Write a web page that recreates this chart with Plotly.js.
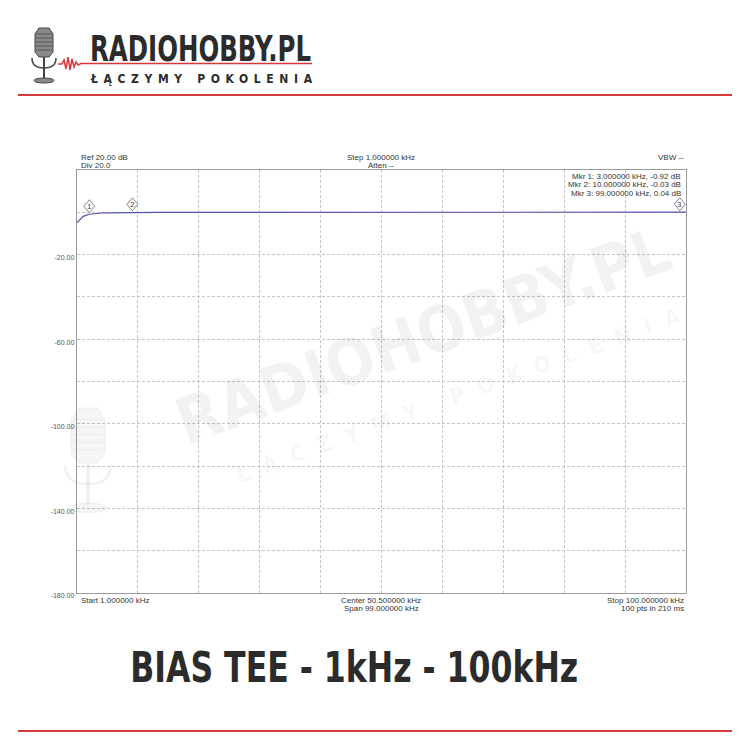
<!DOCTYPE html>
<html>
<head>
<meta charset="utf-8">
<script src="https://cdn.plot.ly/plotly-3.0.1.min.js"></script>
<style>
html,body{margin:0;padding:0;background:#fff;}
#chart{width:750px;height:750px;}
</style>
</head>
<body>
<div id="chart"></div>
<script>
// ---------- data ----------
const freq_khz = [1,2,3,4,5,6,7,8,9,10,11,12,13,14,15,16,17,18,19,20,21,22,23,24,25,26,27,28,29,30,31,32,33,34,35,36,37,38,39,40,41,42,43,44,45,46,47,48,49,50,51,52,53,54,55,56,57,58,59,60,61,62,63,64,65,66,67,68,69,70,71,72,73,74,75,76,77,78,79,80,81,82,83,84,85,86,87,88,89,90,91,92,93,94,95,96,97,98,99,100];
const gain_db = [-4.95,-1.90,-0.92,-0.52,-0.34,-0.23,-0.16,-0.11,-0.07,-0.03,
  -0.02,-0.02,-0.01,-0.01,0.00,0.00,0.00,0.01,0.00,0.01,
  0.01,0.01,0.00,0.01,0.01,0.02,0.01,0.01,0.02,0.01,
  0.02,0.02,0.01,0.02,0.02,0.02,0.01,0.02,0.02,0.02,
  0.02,0.03,0.02,0.02,0.03,0.02,0.03,0.02,0.03,0.03,
  0.02,0.03,0.03,0.03,0.02,0.03,0.03,0.03,0.03,0.02,
  0.03,0.03,0.03,0.04,0.03,0.03,0.03,0.04,0.03,0.03,
  0.04,0.03,0.04,0.03,0.04,0.04,0.03,0.04,0.04,0.03,
  0.04,0.04,0.04,0.03,0.04,0.04,0.04,0.04,0.03,0.04,
  0.04,0.04,0.04,0.05,0.04,0.04,0.04,0.04,0.04,0.04];
const marker_ids = [1, 2, 3];
const marker_freq = [3, 10, 99];
const marker_db = [-0.92, -0.03, 0.04];
const x_grid = [1, 10.9, 20.8, 30.7, 40.6, 50.5, 60.4, 70.3, 80.2, 90.1, 100];
const y_ticks = [20, 0, -20, -40, -60, -80, -100, -120, -140, -160, -180];
const y_ticktext = ['', '', '-20.00', '', '-60.00', '', '-100.00', '', '-140.00', '', '-180.00'];
const header_texts = ['Ref 20.00 dB', 'Div 20.0', 'Step 1.000000 kHz', 'Atten --', 'VBW --'];
const footer_texts = ['Start 1.000000 kHz', 'Center 50.500000 kHz', 'Span 99.000000 kHz', 'Stop 100.000000 kHz', '100 pts in 210 ms'];
const chart_title = 'BIAS TEE - 1kHz - 100kHz';
const brand = 'RADIOHOBBY.PL';
const slogan = 'ŁĄCZYMY POKOLENIA';

// ---------- geometry helpers (styling only) ----------
const L = 77, R = 686, T = 170, B = 593;
const px = x => (x - L) / (R - L);
const py = y => (B - y) / (B - T);

const small = {family: 'Liberation Sans, Arial, sans-serif', size: 8, color: '#333'};
const heavy = 'DejaVu Sans Condensed, DejaVu Sans, sans-serif';

const annotations = [];
const stretchList = [];
function txt(text, x, y, xanchor, font, extra) {
  annotations.push(Object.assign({text: text, xref: 'paper', yref: 'paper', x: px(x), y: py(y),
    xanchor: xanchor, yanchor: 'middle', showarrow: false, font: font}, extra || {}));
  return annotations.length - 1;
}
// top labels
txt(header_texts[0], 79, 157, 'left', small);
txt(header_texts[1], 79, 165, 'left', small);
txt(header_texts[2], 381, 157, 'center', small);
txt(header_texts[3], 381, 165, 'center', small);
txt(header_texts[4], 686, 157, 'right', small);
// marker readouts
marker_ids.forEach((id, i) => {
  const t = 'Mkr ' + id + ': ' + marker_freq[i].toFixed(6) + ' kHz, ' + marker_db[i].toFixed(2) + ' dB';
  txt(t, 683, 176 + i * 8.5, 'right', small);
});
// bottom labels
txt(footer_texts[0], 79, 600, 'left', small);
txt(footer_texts[1], 381, 600, 'center', small);
txt(footer_texts[2], 381, 608, 'center', small);
txt(footer_texts[3], 686, 600, 'right', small);
txt(footer_texts[4], 686, 608, 'right', small);
// marker numbers (data-anchored)
marker_ids.forEach((id, i) => {
  annotations.push({text: String(id), x: marker_freq[i], y: marker_db[i], xref: 'x', yref: 'y',
    yshift: 8, showarrow: false, font: {family: 'Liberation Sans, Arial, sans-serif', size: 8, color: '#444'}});
});
// watermark
txt(brand, 423, 336, 'center', {family: heavy, size: 64, color: 'rgba(0,0,0,0.05)', weight: 'bold'}, {textangle: -20});
stretchList.push([txt(slogan, 458, 395, 'center', {family: heavy, size: 22, color: 'rgba(0,0,0,0.05)', weight: 'bold'}, {textangle: -20}), 470, 'spacing']);
// header logo text
stretchList.push([txt(brand, 88, 48, 'left', {family: heavy, size: 36, color: '#2b2b2b', weight: 'bold'}, {align: 'left'}), 221, 'spacingAndGlyphs']);
stretchList.push([txt(slogan, 88, 79, 'left', {family: heavy, size: 12, color: '#2b2b2b', weight: 'bold'}, {align: 'left'}), 221, 'spacing']);
// big title
stretchList.push([txt(chart_title, 354, 667, 'center', {family: heavy, size: 42, color: '#2b2b2b', weight: 'bold'}), 448, 'spacingAndGlyphs']);

const shapes = [];
// red rules
shapes.push({type: 'line', xref: 'paper', yref: 'paper', x0: px(18), x1: px(732), y0: py(95), y1: py(95), line: {color: '#d9383a', width: 2}});
shapes.push({type: 'line', xref: 'paper', yref: 'paper', x0: px(18), x1: px(732), y0: py(731), y1: py(731), line: {color: '#d9383a', width: 2}});
// waveform line in logo
const wave = [[58,64],[62,64],[64,60],[66,69],[68,57],[70,70],[72,59],[74,67],[76,62],[78,65],[81,63.5],[312,63.5]];
shapes.push({type: 'path', xref: 'paper', yref: 'paper',
  path: 'M' + wave.map(p => px(p[0]) + ',' + py(p[1])).join(' L'), line: {color: '#d9383a', width: 1.5}});
// microphone (logo) and faded watermark microphone
function mic(cx, top, s, fill, stroke, grill) {
  const pts = [[-9,6],[-5,0],[5,0],[9,6],[9,24],[5,29],[-5,29],[-9,24]];
  shapes.push({type: 'path', xref: 'paper', yref: 'paper',
    path: 'M' + pts.map(p => px(cx + p[0] * s) + ',' + py(top + p[1] * s)).join(' L') + ' Z', fillcolor: fill, line: {color: stroke, width: 1}});
  [6, 10, 14, 18, 22].forEach(yy => shapes.push({type: 'line', xref: 'paper', yref: 'paper',
    x0: px(cx - 8 * s), x1: px(cx + 8 * s), y0: py(top + yy * s), y1: py(top + yy * s), line: {color: grill, width: 1}}));
  shapes.push({type: 'line', xref: 'paper', yref: 'paper', x0: px(cx), x1: px(cx), y0: py(top + 29 * s), y1: py(top + 51 * s), line: {color: stroke, width: 2 * s}});
  shapes.push({type: 'path', xref: 'paper', yref: 'paper',
    path: 'M' + px(cx - 12 * s) + ',' + py(top + 30 * s) + ' Q' + px(cx - 12 * s) + ',' + py(top + 40 * s) + ' ' + px(cx) + ',' + py(top + 40 * s) +
      ' Q' + px(cx + 12 * s) + ',' + py(top + 40 * s) + ' ' + px(cx + 12 * s) + ',' + py(top + 30 * s),
    line: {color: stroke, width: 1.5 * s}});
  shapes.push({type: 'circle', xref: 'paper', yref: 'paper', x0: px(cx - 10 * s), x1: px(cx + 10 * s), y0: py(top + 50 * s), y1: py(top + 55 * s), fillcolor: fill, line: {color: stroke, width: 1}});
}
mic(44, 28, 1, '#8a8a8a', '#444', '#555');
mic(88, 408, 1.9, 'rgba(0,0,0,0.04)', 'rgba(0,0,0,0.05)', 'rgba(0,0,0,0.04)');
// marker diamonds (data-anchored, pixel sized)
marker_ids.forEach((id, i) => {
  shapes.push({type: 'path', xref: 'x', yref: 'y', xsizemode: 'pixel', ysizemode: 'pixel',
    xanchor: marker_freq[i], yanchor: marker_db[i],
    path: 'M0,1.5 L5.5,8 L0,14.5 L-5.5,8 Z', fillcolor: 'rgba(255,255,255,0.9)', line: {color: '#666', width: 0.8}});
});

const trace = {x: freq_khz, y: gain_db, type: 'scatter', mode: 'lines',
  line: {color: '#5252b0', width: 1.2}, hoverinfo: 'skip'};

const layout = {
  width: 750, height: 750,
  margin: {l: L, r: 750 - R, t: T, b: 750 - B, pad: 0},
  paper_bgcolor: '#fff', plot_bgcolor: '#fff',
  showlegend: false,
  xaxis: {range: [1, 100], tickvals: x_grid, showticklabels: false, ticks: '',
    showgrid: true, gridcolor: '#c4c4c4', griddash: '3px,2px', gridwidth: 1,
    zeroline: false, showline: true, mirror: true, linecolor: '#9a9a9a', linewidth: 1.2, fixedrange: true},
  yaxis: {range: [-180, 20], tickvals: y_ticks, ticktext: y_ticktext, ticks: '', ticklabelshift: 3,
    tickfont: {family: 'Liberation Sans, Arial, sans-serif', size: 7, color: '#555'},
    showgrid: true, gridcolor: '#c4c4c4', griddash: '3px,2px', gridwidth: 1,
    zeroline: false, showline: true, mirror: true, linecolor: '#9a9a9a', linewidth: 1.2, fixedrange: true},
  annotations: annotations,
  shapes: shapes
};

Plotly.newPlot('chart', [trace], layout, {staticPlot: true, displayModeBar: false}).then(() => {
  stretchList.forEach(([idx, len, adj]) => {
    const t = document.querySelector('.annotation[data-index="' + idx + '"] text.annotation-text');
    if (t) { t.setAttribute('textLength', len); t.setAttribute('lengthAdjust', adj); }
  });
});
</script>
</body>
</html>
